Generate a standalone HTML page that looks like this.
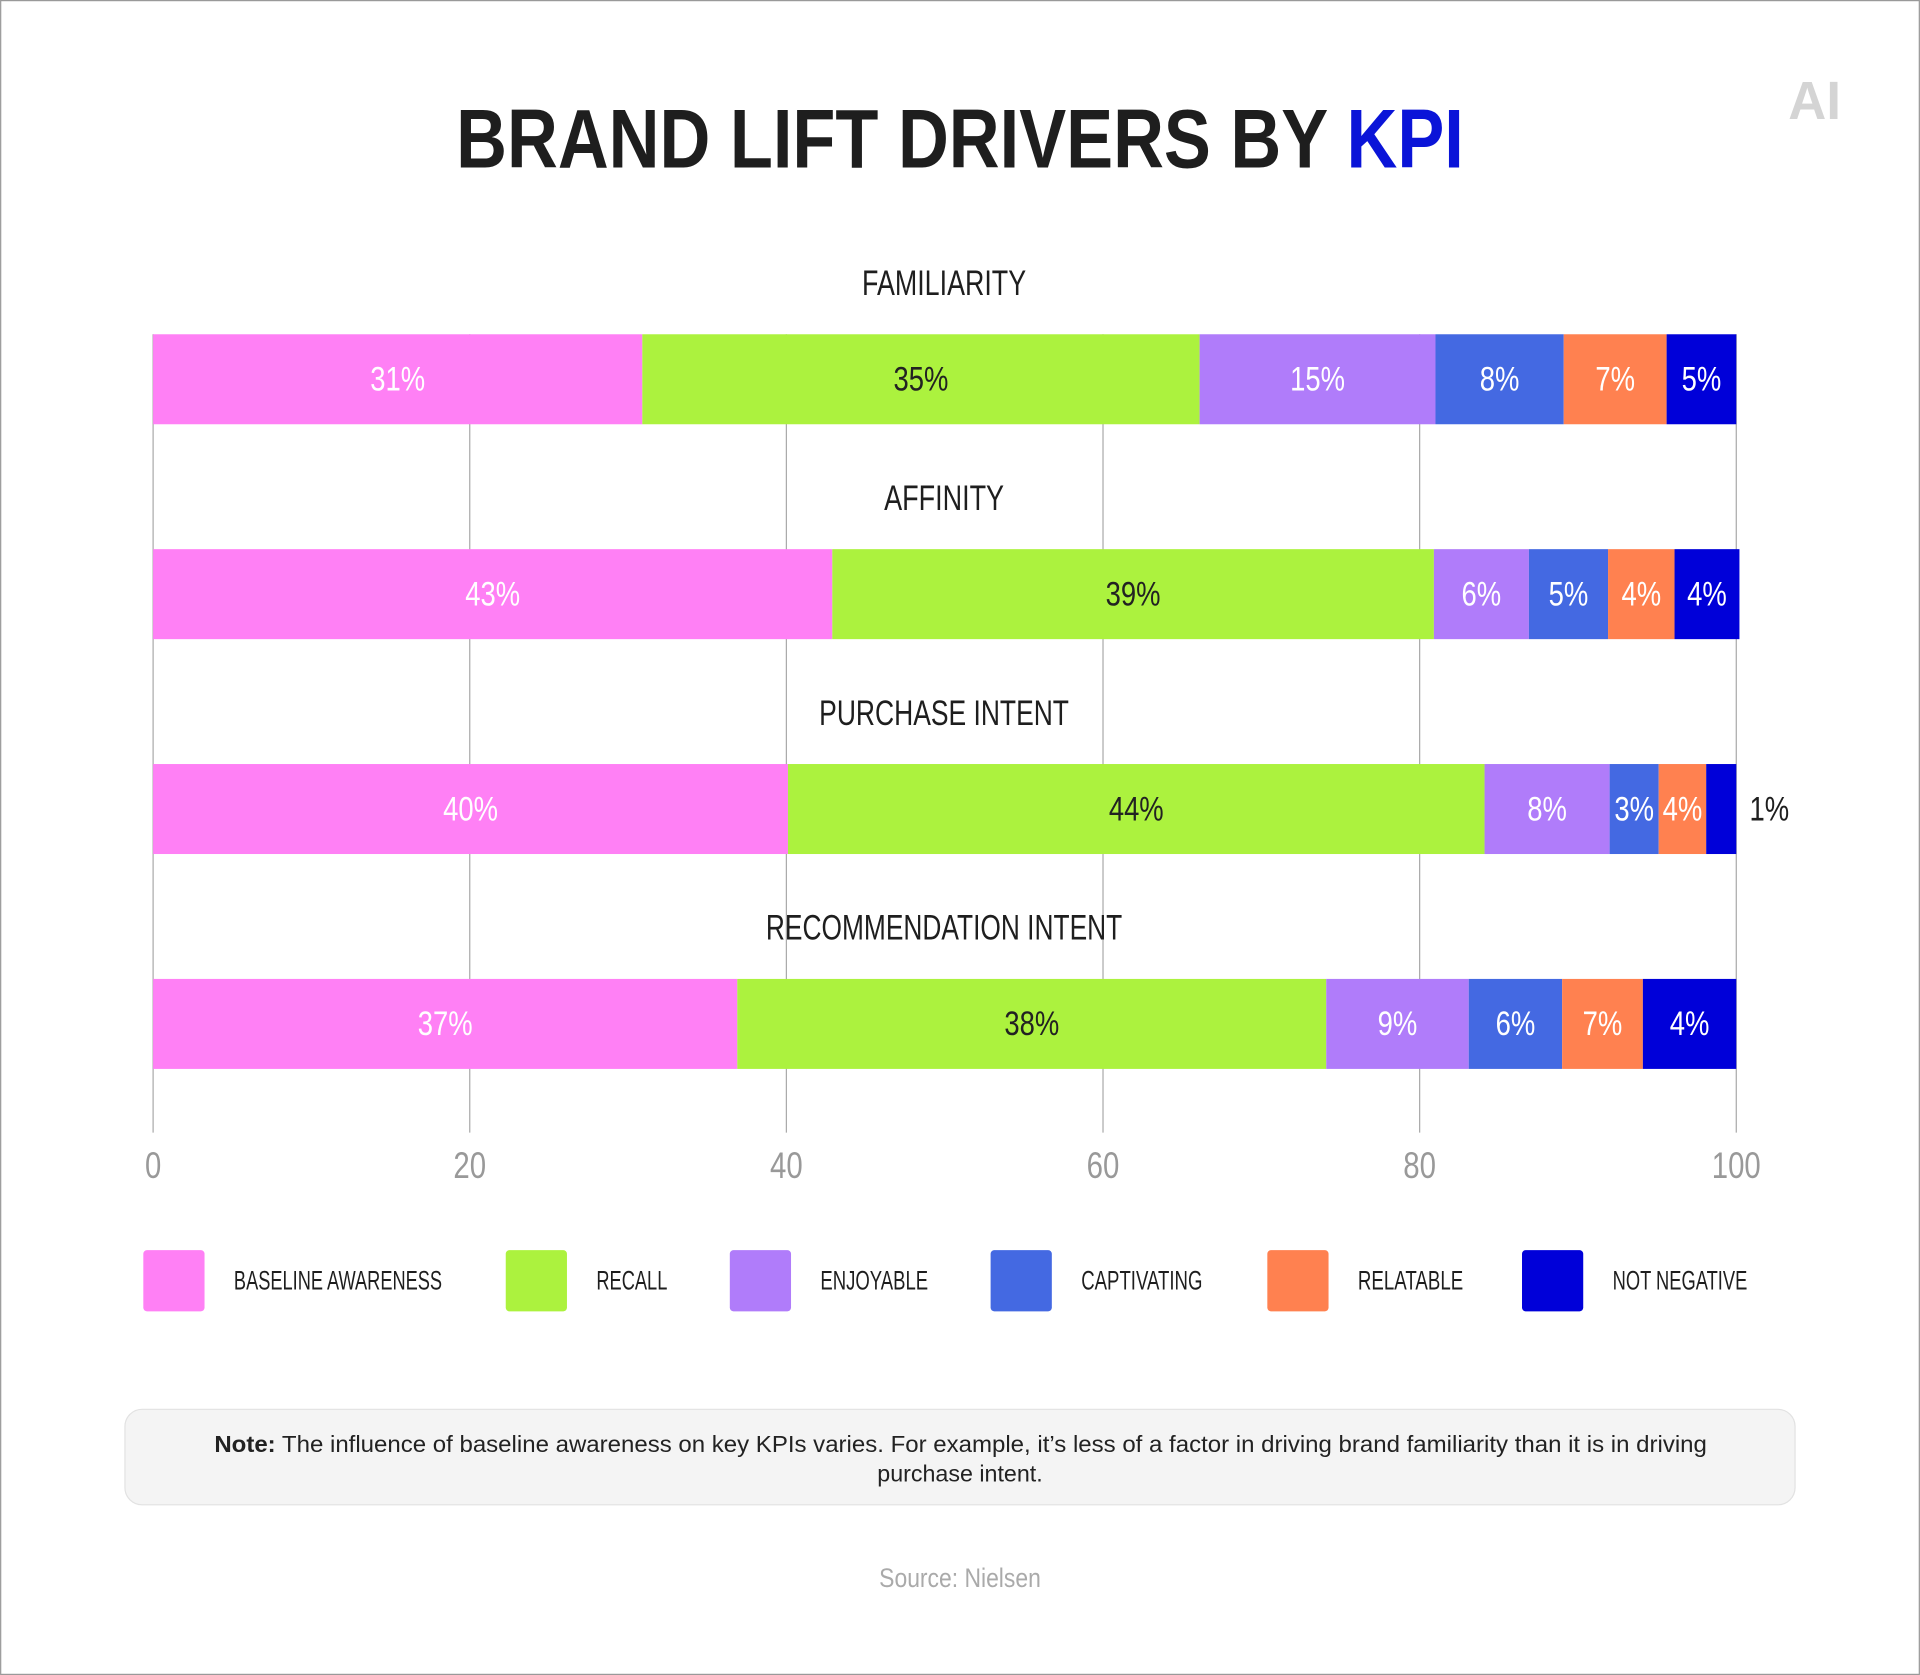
<!DOCTYPE html>
<html><head><meta charset="utf-8"><style>
html,body{margin:0;padding:0;background:#fff;}
svg{display:block;}
.c{font-family:"Liberation Sans Narrow","Liberation Sans",sans-serif;}
</style></head><body>
<svg id="chart" width="1920" height="1675" viewBox="0 0 1568 1368" xmlns="http://www.w3.org/2000/svg">
<rect x="0.5" y="0.5" width="1567" height="1367" fill="#fff" stroke="#999"/>
<text class="c" x="784" y="137" text-anchor="middle" font-size="68" font-weight="bold" fill="#1e1e1e" textLength="823" lengthAdjust="spacingAndGlyphs">BRAND LIFT DRIVERS BY <tspan fill="#0a14d8">KPI</tspan></text>
<text class="c" x="1482" y="97" text-anchor="middle" font-size="44" font-weight="bold" fill="#d4d4d4" textLength="43" lengthAdjust="spacingAndGlyphs">AI</text>
<g id="grid"></g><g id="bars"></g><g id="legend"></g>
<rect x="102" y="1151" width="1364" height="78" rx="14" fill="#f4f4f4" stroke="#e2e2e2"/>
<text x="175" y="1186" font-family="Liberation Sans, sans-serif" font-size="19" fill="#222" textLength="1219" lengthAdjust="spacingAndGlyphs"><tspan font-weight="bold">Note:</tspan>  The influence of baseline awareness on key KPIs varies. For example, it’s less of a factor in driving brand familiarity than it is in driving</text>
<text x="784" y="1210" text-anchor="middle" font-family="Liberation Sans, sans-serif" font-size="19" fill="#222">purchase intent.</text>
<text class="c" x="784" y="1296" text-anchor="middle" font-size="22" fill="#aaa" textLength="132" lengthAdjust="spacingAndGlyphs">Source: Nielsen</text>
</svg>
<script>
const categories = ["FAMILIARITY","AFFINITY","PURCHASE INTENT","RECOMMENDATION INTENT"];
const seriesNames = ["BASELINE AWARENESS","RECALL","ENJOYABLE","CAPTIVATING","RELATABLE","NOT NEGATIVE"];
const familiarity = [30.9,35.2,14.9,8.1,6.5,4.4];
const affinity = [42.9,38.0,6.0,5.0,4.2,4.1];
const purchaseIntent = [40.1,44.0,7.9,3.1,3.0,1.9];
const recommendationIntent = [36.9,37.2,9.0,5.9,5.1,5.9];
const familiarityLabels = ["31%","35%","15%","8%","7%","5%"];
const affinityLabels = ["43%","39%","6%","5%","4%","4%"];
const purchaseLabels = ["40%","44%","8%","3%","4%","1%"];
const recommendationLabels = ["37%","38%","9%","6%","7%","4%"];
const xTicks = [0,20,40,60,80,100];
const values=[familiarity,affinity,purchaseIntent,recommendationIntent];
const labels=[familiarityLabels,affinityLabels,purchaseLabels,recommendationLabels];
const colors=["#ff80f5","#acf23e","#b07cfa","#4469e2","#ff8150","#0000d9"];
const textColors=["#fff","#222","#fff","#fff","#fff","#fff"];
const NS="http://www.w3.org/2000/svg";
const x=v=>125+v*(1418-125)/100;
const rowY=i=>273+i*175.5;
function mk(t,a,p){const e=document.createElementNS(NS,t);for(const k in a)e.setAttribute(k,a[k]);p.appendChild(e);return e;}
function squeeze(e,f){const w=e.getComputedTextLength();e.setAttribute('textLength',(w*f).toFixed(1));e.setAttribute('lengthAdjust','spacingAndGlyphs');}
const grid=document.getElementById('grid'),bars=document.getElementById('bars'),leg=document.getElementById('legend');
xTicks.forEach(t=>{
 const l=mk('line',{x1:x(t),x2:x(t),y1:273,y2:925,stroke:'#aaa','stroke-width':1},grid);
 
 
 const tx=mk('text',{x:x(t),y:962,'text-anchor':'middle','font-size':30,fill:'#999',class:'c'},grid);
 tx.textContent=t;
 
 
 squeeze(tx,0.8);
});
const catW=[134,98,204,291];
categories.forEach((c,i)=>{
 const y=rowY(i);
 const ct=mk('text',{x:771,y:y-32,'text-anchor':'middle','font-size':29,fill:'#1e1e1e',class:'c',textLength:catW[i],lengthAdjust:'spacingAndGlyphs'},bars);
 ct.textContent=c;
 
 
 let cum=0;
 values[i].forEach((v,j)=>{
  const x0=x(cum),x1=x(cum+v);cum+=v;
  const r=mk('rect',{x:x0,y:y,width:x1-x0,height:73.5,fill:colors[j]},bars);
  
  
  const outside=(x1-x0)<30;
  const t=mk('text',{x:outside?x1+27:(x0+x1)/2,y:y+46,'text-anchor':'middle','font-size':28,fill:outside?'#1e1e1e':textColors[j],class:'c'},bars);
  t.textContent=labels[i][j];
  
  
  squeeze(t,0.8);
 });
});
const legX=[117,413,596,809,1035,1243];
const legW=[170,58,88,99,86,110];
seriesNames.forEach((n,j)=>{
 const r=mk('rect',{x:legX[j],y:1021,width:50,height:50,rx:3,fill:colors[j]},leg);
 
 
 const t=mk('text',{x:legX[j]+74,y:1053,'font-size':22,fill:'#1e1e1e',class:'c',textLength:legW[j],lengthAdjust:'spacingAndGlyphs'},leg);
 t.textContent=n;
 
 
});
</script>
</body></html>
